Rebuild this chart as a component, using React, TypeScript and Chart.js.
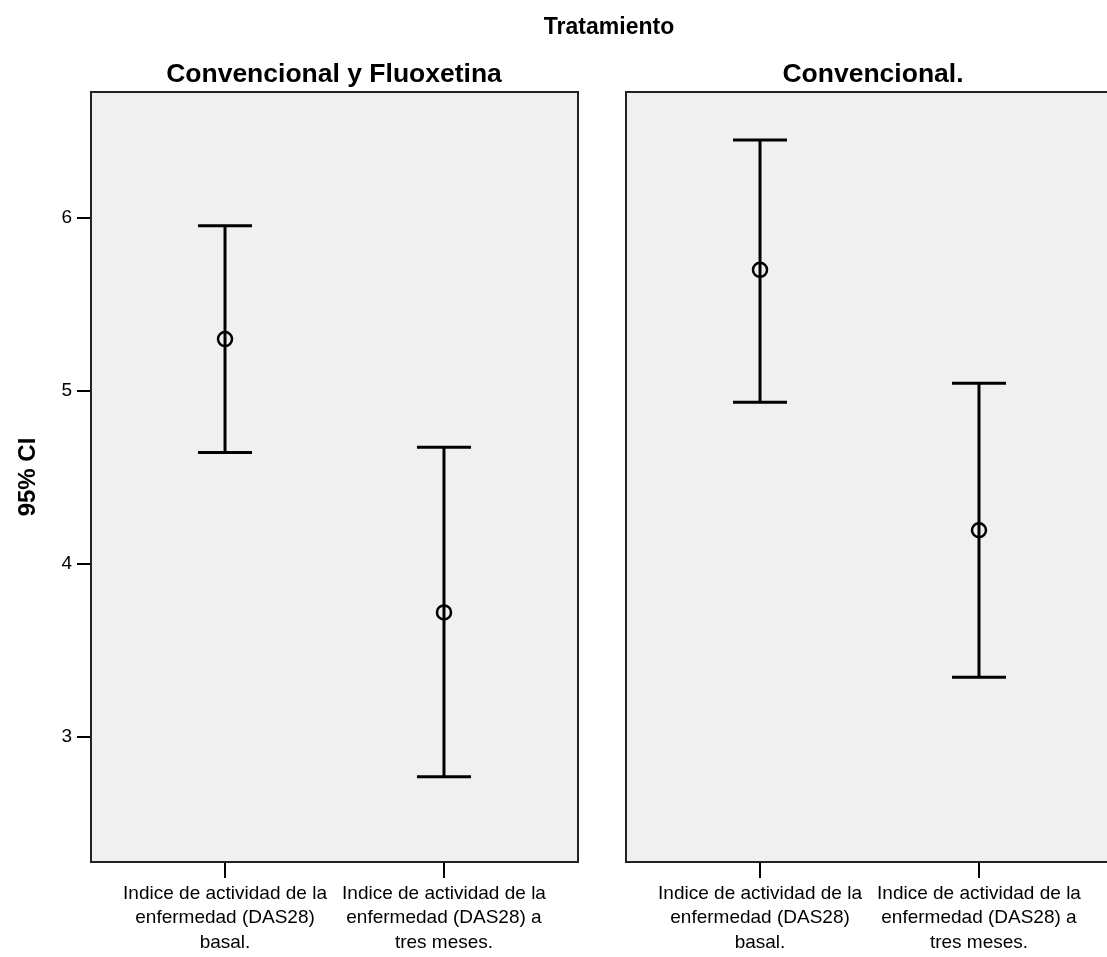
import React, { useEffect, useRef } from "react";
import { Chart, registerables } from "chart.js";

Chart.register(...registerables);

const categories: string[][] = [
  ["Indice de actividad de la", "enfermedad (DAS28)", "basal."],
  ["Indice de actividad de la", "enfermedad (DAS28) a", "tres meses."],
];
const mainTitle = "Tratamiento";
const panelTitles = ["Convencional y Fluoxetina", "Convencional."];
const yTitle = "95% CI";
const yTicks = [3, 4, 5, 6];

const fluoxMean = [5.3, 3.72];
const fluoxLower = [4.645, 2.77];
const fluoxUpper = [5.955, 4.675];

const convMean = [5.7, 4.195];
const convLower = [4.935, 3.345];
const convUpper = [6.45, 5.045];

const FONT = "'Liberation Sans', Arial, sans-serif";

const panelBg = {
  id: "panelBg",
  beforeDraw(chart: any) {
    const { ctx, chartArea: a } = chart;
    ctx.save();
    ctx.fillStyle = "#f0f0f0";
    ctx.fillRect(a.left, a.top, a.right - a.left, a.bottom - a.top);
    ctx.restore();
  },
  afterDraw(chart: any) {
    const { ctx, chartArea: a } = chart;
    ctx.save();
    ctx.strokeStyle = "#222";
    ctx.lineWidth = 2;
    ctx.strokeRect(a.left, a.top, a.right - a.left, a.bottom - a.top);
    ctx.restore();
  },
};

function makeConfig(
  mean: number[],
  lower: number[],
  upper: number[],
  showY: boolean,
  padLeft: number
): any {
  const ciData: any[] = [];
  mean.forEach((_, i) => {
    if (i > 0) ciData.push({ x: i - 0.5, y: null });
    ciData.push({ x: i, y: lower[i] });
    ciData.push({ x: i, y: upper[i] });
  });
  const meanData = mean.map((m, i) => ({ x: i, y: m }));
  return {
    type: "line",
    data: {
      datasets: [
        {
          data: meanData,
          showLine: false,
          pointStyle: "circle",
          pointRadius: 7,
          pointBorderWidth: 2.5,
          pointBorderColor: "#000",
          pointBackgroundColor: "rgba(0,0,0,0)",
          order: 0,
        },
        {
          data: ciData,
          showLine: true,
          spanGaps: false,
          borderColor: "#000",
          borderWidth: 3,
          pointStyle: "line",
          pointRadius: 27,
          pointBorderWidth: 3,
          pointBorderColor: "#000",
          order: 1,
        },
      ],
    },
    options: {
      animation: false,
      responsive: false,
      maintainAspectRatio: false,
      events: [],
      layout: { autoPadding: false, padding: { top: 92, right: 7, left: padLeft, bottom: 0 } },
      plugins: { legend: { display: false }, tooltip: { enabled: false }, title: { display: false } },
      scales: {
        x: {
          type: "linear",
          min: -0.612,
          max: 1.612,
          afterBuildTicks: (s: any) => {
            s.ticks = categories.map((_, i) => ({ value: i }));
          },
          afterFit: (s: any) => {
            s.height = 95;
            s.paddingLeft = 0;
            s.paddingRight = 0;
          },
          border: { display: false },
          grid: {
            drawOnChartArea: false,
            drawTicks: true,
            tickLength: 16,
            tickColor: "#000",
            lineWidth: 2,
          },
          ticks: {
            autoSkip: false,
            maxRotation: 0,
            minRotation: 0,
            padding: 3,
            color: "#000",
            font: { family: FONT, size: 19, lineHeight: 1.3 },
            callback: (v: any) => categories[Math.round(Number(v))] ?? "",
          },
        },
        y: {
          type: "linear",
          display: showY,
          min: 2.2775,
          max: 6.728,
          afterBuildTicks: (s: any) => {
            s.ticks = yTicks.map((v) => ({ value: v }));
          },
          afterFit: (s: any) => {
            s.width = showY ? 91 : 0;
            s.paddingTop = 0;
            s.paddingBottom = 0;
          },
          border: { display: false },
          grid: {
            drawOnChartArea: false,
            drawTicks: true,
            tickLength: 14,
            tickColor: "#000",
            lineWidth: 2,
          },
          ticks: {
            padding: 5,
            color: "#000",
            font: { family: FONT, size: 19 },
            callback: (v: any) => String(v),
          },
          title: {
            display: true,
            text: yTitle,
            color: "#000",
            font: { family: FONT, size: 24, weight: "bold" },
            padding: { top: 14, bottom: 0 },
          },
        },
      },
    },
    plugins: [panelBg],
  };
}

function Panel(props: {
  mean: number[];
  lower: number[];
  upper: number[];
  showY: boolean;
  padLeft: number;
  left: number;
  width: number;
}) {
  const ref = useRef<HTMLCanvasElement | null>(null);
  useEffect(() => {
    if (!ref.current) return;
    const chart = new Chart(
      ref.current,
      makeConfig(props.mean, props.lower, props.upper, props.showY, props.padLeft)
    );
    return () => chart.destroy();
  }, []);
  return (
    <canvas
      ref={ref}
      width={props.width}
      height={957}
      style={{ position: "absolute", left: props.left, top: 0, width: props.width, height: 957 }}
    />
  );
}

function Label(props: { text: string; cx: number; cy: number; size: number }) {
  return (
    <div
      style={{
        position: "absolute",
        left: props.cx - 300,
        width: 600,
        top: props.cy - props.size * 0.6,
        height: props.size * 1.2,
        lineHeight: `${props.size * 1.2}px`,
        textAlign: "center",
        fontFamily: FONT,
        fontWeight: "bold",
        fontSize: props.size,
        color: "#000",
        whiteSpace: "nowrap",
      }}
    >
      {props.text}
    </div>
  );
}

export default function App() {
  return (
    <div
      style={{
        position: "absolute",
        left: 0,
        top: 0,
        width: 1107,
        height: 957,
        overflow: "hidden",
        background: "#fff",
      }}
    >
      <Panel mean={fluoxMean} lower={fluoxLower} upper={fluoxUpper} showY={true} padLeft={0} left={0} width={585} />
      <Panel mean={convMean} lower={convLower} upper={convUpper} showY={false} padLeft={26} left={600} width={520} />
      <Label text={mainTitle} cx={609} cy={27} size={23} />
      <Label text={panelTitles[0]} cx={334} cy={74} size={26.5} />
      <Label text={panelTitles[1]} cx={873} cy={74} size={26.5} />
    </div>
  );
}
